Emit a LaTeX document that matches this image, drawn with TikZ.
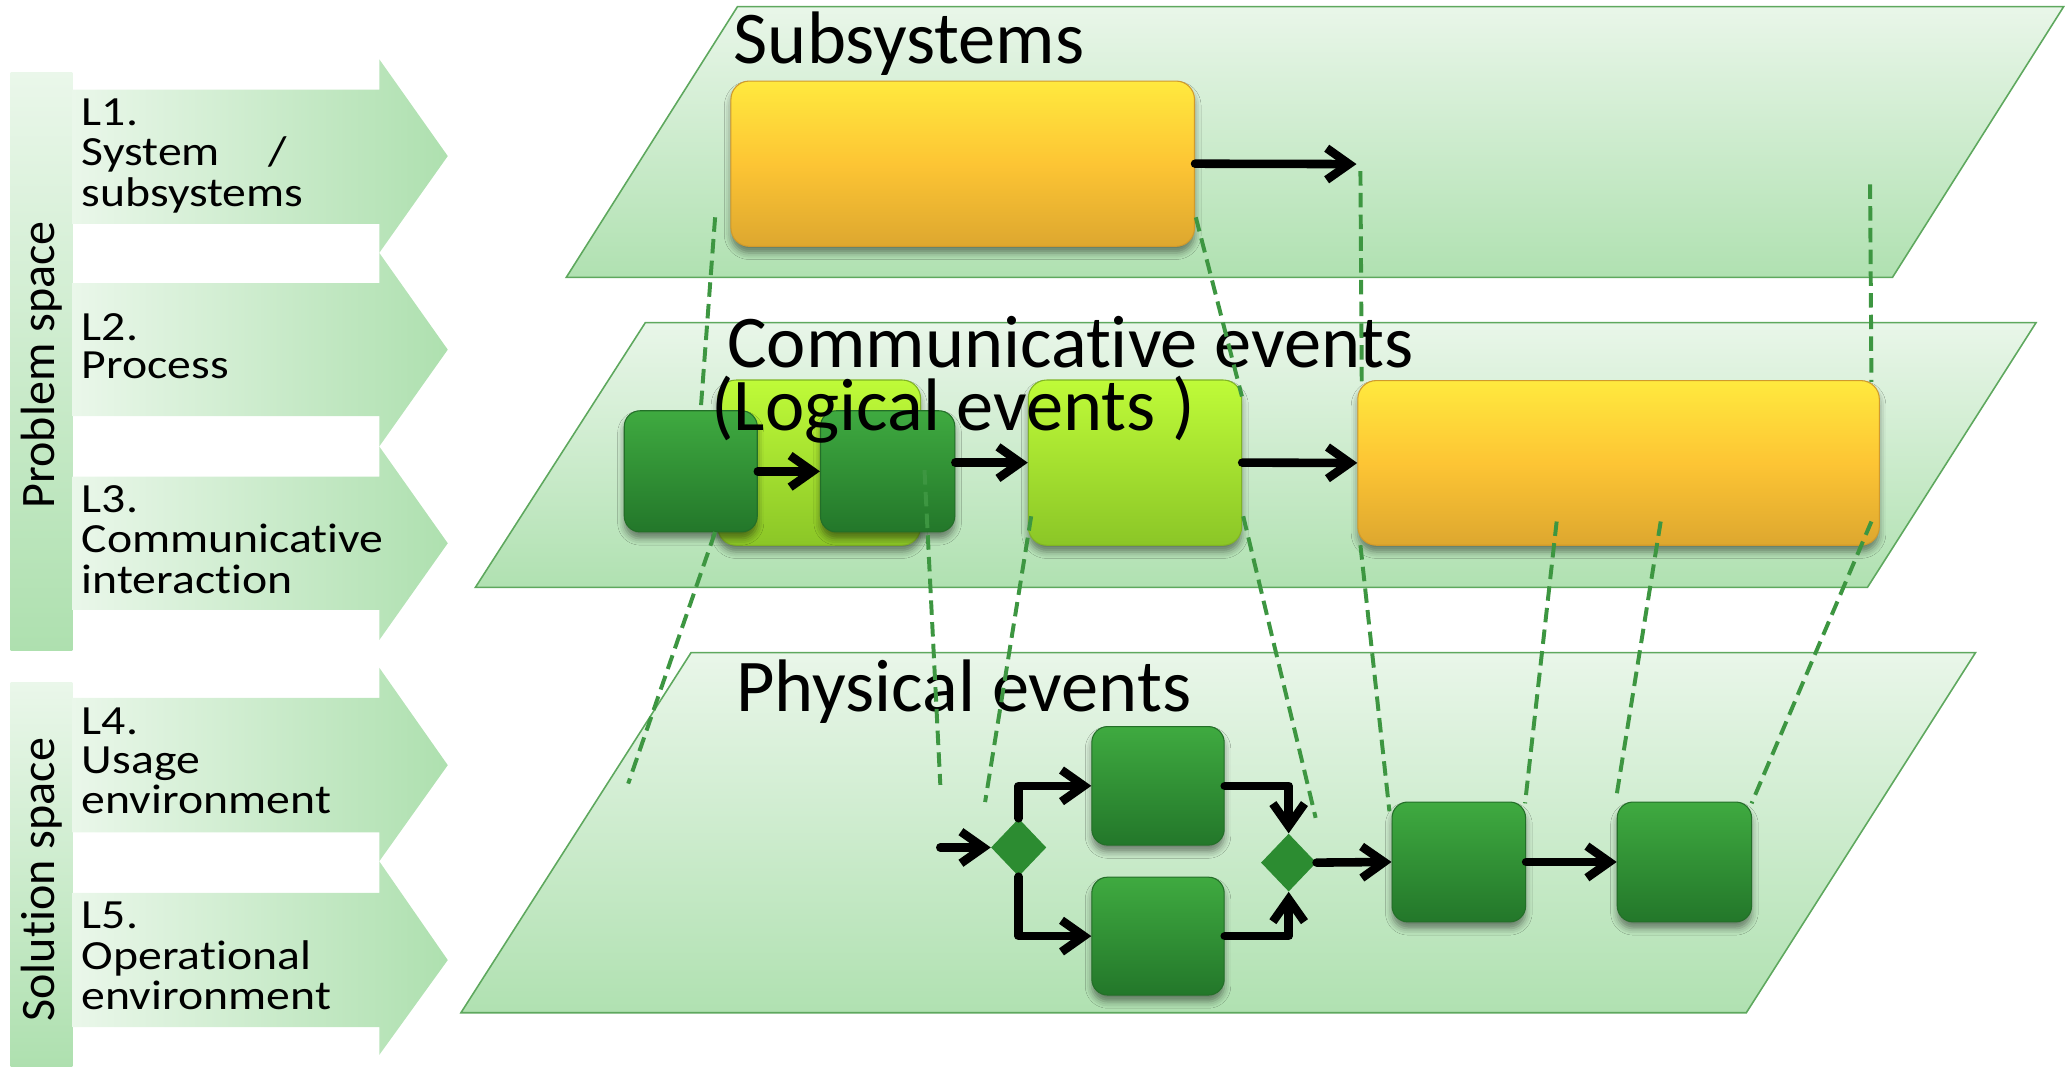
\documentclass[tikz,border=0pt]{standalone}
\usepackage{fontspec}
\setmainfont[Ligatures=NoCommon]{Carlito}
\usepackage{graphicx}
\usetikzlibrary{arrows.meta,shapes.geometric,shadows.blur,calc}

\definecolor{planeTop}{HTML}{E9F6E9}
\definecolor{planeBot}{HTML}{B0E1B1}
\definecolor{planeEdge}{HTML}{5EA85E}
\definecolor{arrL}{HTML}{EAF7EA}
\definecolor{arrR}{HTML}{AEE0AF}
\definecolor{orTop}{HTML}{FFE93E}
\definecolor{orMid}{HTML}{FDC534}
\definecolor{orBot}{HTML}{DDA72F}
\definecolor{orEdge}{HTML}{D09A2C}
\definecolor{limeTop}{HTML}{BFFB38}
\definecolor{limeBot}{HTML}{8BC627}
\definecolor{limeEdge}{HTML}{80B424}
\definecolor{dgTop}{HTML}{3FAA40}
\definecolor{dgBot}{HTML}{23772A}
\definecolor{dgEdge}{HTML}{236F28}
\definecolor{diaC}{HTML}{2C8C31}
\definecolor{dashC}{HTML}{3D9641}

\newcommand{\lbltext}[1]{\scalebox{1.15}[1]{\begin{tabular}{@{}l@{}}#1\end{tabular}}}

\begin{document}
\begin{tikzpicture}[x=1pt,y=-1pt,
 plane/.style={draw=planeEdge,line width=1.2pt,top color=planeTop,bottom color=planeBot},
 sidebar/.style={top color=arrL,bottom color=arrR,draw=none},
 sidearrow/.style={left color=arrL,right color=arrR,draw=none},
 lbl/.style={font=\fontsize{31.5}{29.3}\selectfont,inner sep=0pt,anchor=west},
 sidelbl/.style={font=\fontsize{36.5}{40}\selectfont,inner sep=0pt,rotate=90},
 title/.style={font=\fontsize{56.5}{60}\selectfont,inner sep=0pt,anchor=base west},
 boxbase/.style={rectangle,inner sep=0pt,line width=0.8pt,
   blur shadow={shadow xshift=0pt,shadow yshift=-5pt,shadow blur radius=5pt,shadow opacity=45}},
 orbox/.style={boxbase,rounded corners=14pt,draw=orEdge,top color=orTop,bottom color=orBot,middle color=orMid},
 limebox/.style={boxbase,rounded corners=14pt,draw=limeEdge,top color=limeTop,bottom color=limeBot},
 dgbox/.style={boxbase,rounded corners=12pt,draw=dgEdge,top color=dgTop,bottom color=dgBot},
 dia/.style={diamond,inner sep=0pt,minimum width=42pt,minimum height=44pt,fill=diaC},
 flow/.style={line width=6.5pt,line cap=round,line join=round,-{Straight Barb[length=17pt,width=24pt]}},
 trace/.style={draw=dashC,line width=3pt,dash pattern=on 11pt off 5.5pt},
]
\useasboundingbox (0,0) rectangle (1568,810);

% ---- left column ----
\path[sidebar] (8,55) rectangle (55,494);
\path[sidebar] (8,518) rectangle (55,810);
\path[sidearrow] (55,68) -- (288,68) -- (288,45) -- (340,118.5) -- (288,192) -- (288,170) -- (55,170) -- cycle;
\path[sidearrow] (55,215) -- (288,215) -- (288,192) -- (340,265.5) -- (288,339) -- (288,316) -- (55,316) -- cycle;
\path[sidearrow] (55,362) -- (288,362) -- (288,339) -- (340,412.5) -- (288,486) -- (288,463) -- (55,463) -- cycle;
\path[sidearrow] (55,530) -- (288,530) -- (288,507) -- (340,581) -- (288,654) -- (288,632) -- (55,632) -- cycle;
\path[sidearrow] (55,678) -- (288,678) -- (288,654) -- (340,729) -- (288,801) -- (288,780) -- (55,780) -- cycle;

\node[sidelbl] (ps) at (31.5,277) {Problem space};
\node[sidelbl] (ss) at (31.5,668) {Solution space};
\node[lbl] (l1) at (62,120) {\lbltext{L1.\\System\hspace{32pt}/\\subsystems}};
\node[lbl] (l2) at (62,267) {\lbltext{L2.\\Process}};
\node[lbl] (l3) at (62,414) {\lbltext{L3.\\Communicative\\interaction}};
\node[lbl] (l4) at (62,582) {\lbltext{L4.\\Usage\\environment}};
\node[lbl] (l5) at (62,730) {\lbltext{L5.\\Operational\\environment}};

% ---- planes ----
\path[plane] (560,5) -- (1567,5) -- (1437,210.6) -- (430,210.6) -- cycle;
\path[plane] (490,245) -- (1546,245) -- (1418,446) -- (361,446) -- cycle;
\path[plane] (524.7,495.6) -- (1500,495.6) -- (1326,769) -- (350,769) -- cycle;

% ---- top layer ----
\node[orbox,minimum width=352pt,minimum height=125.5pt] (sA) at (731,124.3) {};
\coordinate (sAout) at (1030,124.6);
\draw[flow] (sA.east) -- (sAout);

% ---- middle layer ----
\node[limebox,minimum width=154pt,minimum height=125.5pt] (lm1) at (622,351.3) {};
\node[dgbox,minimum width=101pt,minimum height=92pt] (m1) at (524.5,357.9) {};
\node[dgbox,minimum width=102pt,minimum height=92pt] (m2) at (674,357.9) {};
\node[limebox,minimum width=162pt,minimum height=125.5pt] (lm2) at (861.8,351.3) {};
\node[orbox,minimum width=396pt,minimum height=125pt] (or2) at (1229,351.5) {};
\draw[flow] (m1.east) -- (m2.west);
\draw[flow] (m2.east |- lm2.west) -- (lm2.west);
\draw[flow] (lm2.east) -- (or2.west);

% ---- bottom layer ----
\node[dia] (d1) at (773.5,643.5) {};
\node[dgbox,minimum width=100.5pt,minimum height=90pt] (b1) at (879.3,596.7) {};
\node[dgbox,minimum width=100.5pt,minimum height=89.5pt] (b2) at (879.3,710.8) {};
\node[dia] (d2) at (978.5,655) {};
\node[dgbox,minimum width=101.4pt,minimum height=91pt] (b3) at (1107.7,654.5) {};
\node[dgbox,minimum width=102pt,minimum height=91pt] (b4) at (1279,654.5) {};
\coordinate (in0) at (714,643.5);
\draw[flow] (in0) -- (d1.west);
\draw[flow] (d1.north) |- (b1.west);
\draw[flow] (d1.south) |- (b2.west);
\draw[flow] (b1.east) -| (d2.north);
\draw[flow] (b2.east) -| (d2.south);
\draw[flow] (d2.east) -- (b3.west);
\draw[flow] (b3.east) -- (b4.west);

% ---- titles ----
\node[title] (tSub) at (557,48) {Subsystems};
\node[title] (tCom) at (552,279) {Communicative events};
\node[title] (tLog) at (540,327) {(Logical events )};
\node[title] (tPhy) at (559,540) {Physical events};

% ---- traces ----
\coordinate (u1) at (543,165);  \coordinate (v1) at (532,312);
\coordinate (u2) at (908,165);  \coordinate (v2) at (943,301);
\coordinate (u3) at (1033,130); \coordinate (v3) at (1034,290);
\coordinate (u4) at (1420,140); \coordinate (v4) at (1421,290);
\coordinate (u5) at (543,404);  \coordinate (v5) at (477,595);
\coordinate (u6) at (702,357);  \coordinate (v6) at (714,596);
\coordinate (u7) at (783,392);  \coordinate (v7) at (748,609);
\coordinate (u8) at (944,392);  \coordinate (v8) at (999,621);
\coordinate (u9) at (1033,414); \coordinate (v9) at (1055,616);
\coordinate (u10) at (1182,396); \coordinate (v10) at (1158,610);
\coordinate (u11) at (1261,396); \coordinate (v11) at (1227,607);
\coordinate (u12) at (1421,396); \coordinate (v12) at (1330,610);
\foreach \i in {1,...,12} {\draw[trace] (u\i) -- (v\i);}
\end{tikzpicture}
\end{document}
